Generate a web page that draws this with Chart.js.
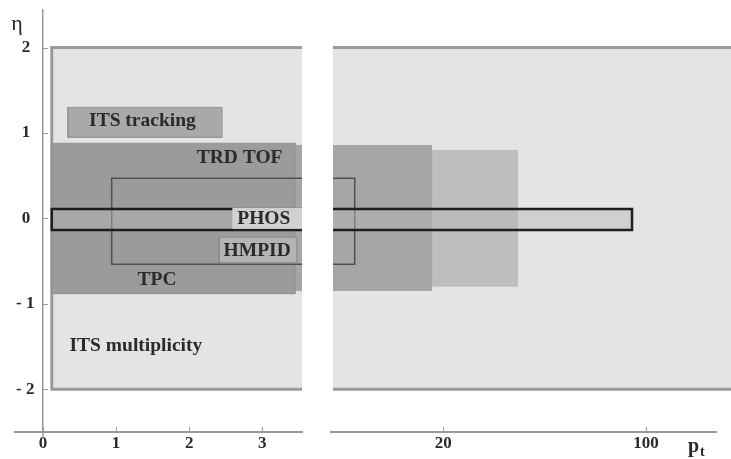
<!DOCTYPE html>
<html>
<head>
<meta charset="utf-8">
<title>Acceptance in pt and eta</title>
<script src="https://cdn.jsdelivr.net/npm/chart.js"></script>
<style>
  html, body { margin: 0; padding: 0; background: #fff; }
  #wrap { position: relative; width: 731px; height: 459px; }
  #wrap canvas { position: absolute; left: 0; top: 0; }
</style>
</head>
<body>
<div id="wrap">
  <canvas id="lowPt" width="731" height="459"></canvas>
  <canvas id="highPt" width="731" height="459"></canvas>
</div>
<script>
// acceptance boxes, listed bottom to top (pt in GeV/c, eta)
const boxNames = ['ITS multiplicity', 'TRD TOF', 'TPC', 'TOF', 'ITS tracking', 'HMPID', 'PHOS', 'PHOS tag', 'HMPID tag'];
const ptFrom   = [0.12, 0.12, 0.12, 0.12, 0.34, 0.94, 0.12, 2.59, 2.41];
const ptTo     = [300, 36.2, 18.3, 3.45, 2.45, 9.9, 89.5, 3.6, 3.47];
const etaFrom  = [-2, -0.80, -0.85, -0.88, 0.95, -0.535, -0.135, -0.12, -0.52];
const etaTo    = [2, 0.80, 0.86, 0.88, 1.30, 0.47, 0.11, 0.125, -0.22];

// text written inside the boxes
const labelText = ['ITS tracking', 'TRD TOF', 'PHOS', 'HMPID', 'TPC', 'ITS multiplicity'];
const labelPt   = [1.36, 2.69, 3.02, 2.93, 1.56, 1.27];
const labelEta  = [1.14, 0.71, -0.01, -0.38, -0.715, -1.49];

// axes: the pt axis is broken, linear below ~3.5 and logarithmic above
const etaTicks = [-2, -1, 0, 1, 2];
const etaRange = [-2.5, 2.44];
const ptTicksLow = [0, 1, 2, 3];
const ptRangeLow = [-0.383, 3.543];
const ptTicksHigh = [20, 100];
const ptRangeHigh = [8.33, 196.4];

// styles, one per box
const boxFill  = ['#e4e4e4', '#bebebe', '#a6a6a6', '#9b9b9b', '#a9a9a9', 'rgba(0,0,0,0)', 'rgba(184,184,184,0.45)', '#d0d0d0', '#b4b4b4'];
const boxLine  = ['#9a9a9a', 'rgba(0,0,0,0)', 'rgba(0,0,0,0)', '#939393', '#959595', '#505050', '#1e1e1e', 'rgba(0,0,0,0)', '#8c8c8c'];
const boxWidth = [3, 1, 1, 1, 1, 1.5, 2.5, 1, 1];

const tickFont = {family: '"Liberation Serif", serif', size: 17, weight: 'bold', lineHeight: 1};
const inkColor = '#2a2a2a';
const axisColor = '#9a9a9a';

function boxDatasets() {
    // datasets drawn first must come last, so reverse at the end
    return boxNames.map((name, i) => ({
        label: name,
        data: [
            {x: ptFrom[i], y: etaFrom[i]},
            {x: ptTo[i], y: etaFrom[i]},
            {x: ptTo[i], y: etaTo[i]},
            {x: ptFrom[i], y: etaTo[i]},
            {x: ptFrom[i], y: etaFrom[i]},
            {x: ptTo[i], y: etaFrom[i]}
        ],
        fill: 'shape',
        backgroundColor: boxFill[i],
        borderColor: boxLine[i],
        borderWidth: boxWidth[i],
        pointRadius: 0,
        tension: 0
    })).reverse();
}

/**
 * Small tick marks pointing into the plot, the extra axis line of the
 * high-pt panel, box labels and axis titles.
 */
const framePlugin = {
    id: 'frame',
    afterDraw(chart, args, opts) {
        const {ctx, chartArea} = chart;
        const x = chart.scales.x;
        const y = chart.scales.y;
        ctx.save();
        ctx.strokeStyle = axisColor;
        ctx.lineWidth = 1;

        if (opts.axisLine) {
            ctx.lineWidth = 2;
            ctx.beginPath();
            ctx.moveTo(chartArea.left - 3, chartArea.bottom);
            ctx.lineTo(chartArea.right - 14, chartArea.bottom);
            ctx.stroke();
            ctx.lineWidth = 1;
        }

        x.ticks.forEach(t => {
            const px = Math.round(x.getPixelForValue(t.value)) + 0.5;
            ctx.beginPath();
            ctx.moveTo(px, chartArea.bottom - 5);
            ctx.lineTo(px, chartArea.bottom);
            ctx.stroke();
        });

        if (y.options.display) {
            const x0 = x.getPixelForValue(0);
            // y axis runs a little past the pt axis
            ctx.lineWidth = 1.5;
            ctx.beginPath();
            ctx.moveTo(x0, chartArea.bottom);
            ctx.lineTo(x0, chartArea.bottom + 7);
            ctx.stroke();
            ctx.lineWidth = 1;
            y.ticks.forEach(t => {
                const py = Math.round(y.getPixelForValue(t.value)) + 0.5;
                ctx.beginPath();
                ctx.moveTo(x0, py);
                ctx.lineTo(x0 + 5, py);
                ctx.stroke();
            });
        }

        ctx.fillStyle = inkColor;
        if (opts.labels) {
            ctx.font = 'bold 19.5px "Liberation Serif", serif';
            ctx.textAlign = 'center';
            ctx.textBaseline = 'middle';
            labelText.forEach((t, i) => {
                ctx.fillText(t, x.getPixelForValue(labelPt[i]), y.getPixelForValue(labelEta[i]));
            });
            // eta axis title
            ctx.font = '22px "Liberation Serif", serif';
            ctx.textAlign = 'center';
            ctx.textBaseline = 'alphabetic';
            ctx.fillText('η', x.getPixelForValue(0) - 26, chartArea.top + 20);
        }
        if (opts.ptTitle) {
            ctx.textAlign = 'left';
            ctx.textBaseline = 'alphabetic';
            ctx.font = 'bold 20px "Liberation Serif", serif';
            ctx.fillText('p', chartArea.right - 43, chartArea.bottom + 20);
            ctx.font = 'bold 14px "Liberation Serif", serif';
            ctx.fillText('t', chartArea.right - 31, chartArea.bottom + 24);
        }
        ctx.restore();
    }
};

const baseOptions = {
    responsive: false,
    animation: false,
    events: [],
    plugins: {legend: {display: false}, tooltip: {enabled: false}}
};

function initLowPt() {
    new Chart(document.getElementById('lowPt'), {
        type: 'line',
        data: {datasets: boxDatasets()},
        plugins: [framePlugin],
        options: {
            ...baseOptions,
            layout: {padding: {left: 15, right: 429, top: 10, bottom: 0}},
            plugins: {...baseOptions.plugins, frame: {labels: true}},
            scales: {
                x: {
                    type: 'linear',
                    position: 'bottom',
                    min: ptRangeLow[0],
                    max: ptRangeLow[1],
                    afterBuildTicks: s => { s.ticks = ptTicksLow.map(v => ({value: v})); },
                    afterFit: s => { s.height = 27; },
                    border: {color: axisColor, width: 2},
                    grid: {display: false, drawTicks: false},
                    ticks: {font: tickFont, color: inkColor, padding: 3, maxRotation: 0, autoSkip: false,
                        callback: v => String(v)}
                },
                y: {
                    type: 'linear',
                    position: {x: 0},
                    min: etaRange[0],
                    max: etaRange[1],
                    afterBuildTicks: s => { s.ticks = etaTicks.map(v => ({value: v})); },
                    border: {color: axisColor, width: 1.5},
                    grid: {display: false, drawTicks: false},
                    // labels are right-aligned on the axis itself, trailing spaces give the gap
                    ticks: {font: tickFont, color: inkColor, padding: 0,
                        callback: v => v < 0 ? '- ' + Math.abs(v) + '  ' : String(v) + '   '}
                }
            }
        }
    });
}

function initHighPt() {
    new Chart(document.getElementById('highPt'), {
        type: 'line',
        data: {datasets: boxDatasets()},
        plugins: [framePlugin],
        options: {
            ...baseOptions,
            layout: {padding: {left: 333, right: 0, top: 10, bottom: 0}},
            plugins: {...baseOptions.plugins, frame: {axisLine: true, ptTitle: true}},
            scales: {
                x: {
                    type: 'logarithmic',
                    position: 'bottom',
                    min: ptRangeHigh[0],
                    max: ptRangeHigh[1],
                    afterBuildTicks: s => { s.ticks = ptTicksHigh.map(v => ({value: v})); },
                    afterFit: s => { s.height = 27; },
                    border: {display: false},
                    grid: {display: false, drawTicks: false},
                    ticks: {font: tickFont, color: inkColor, padding: 3, maxRotation: 0, autoSkip: false,
                        callback: v => String(v)}
                },
                y: {
                    type: 'linear',
                    display: false,
                    min: etaRange[0],
                    max: etaRange[1]
                }
            }
        }
    });
}

initLowPt();
initHighPt();
</script>
</body>
</html>
